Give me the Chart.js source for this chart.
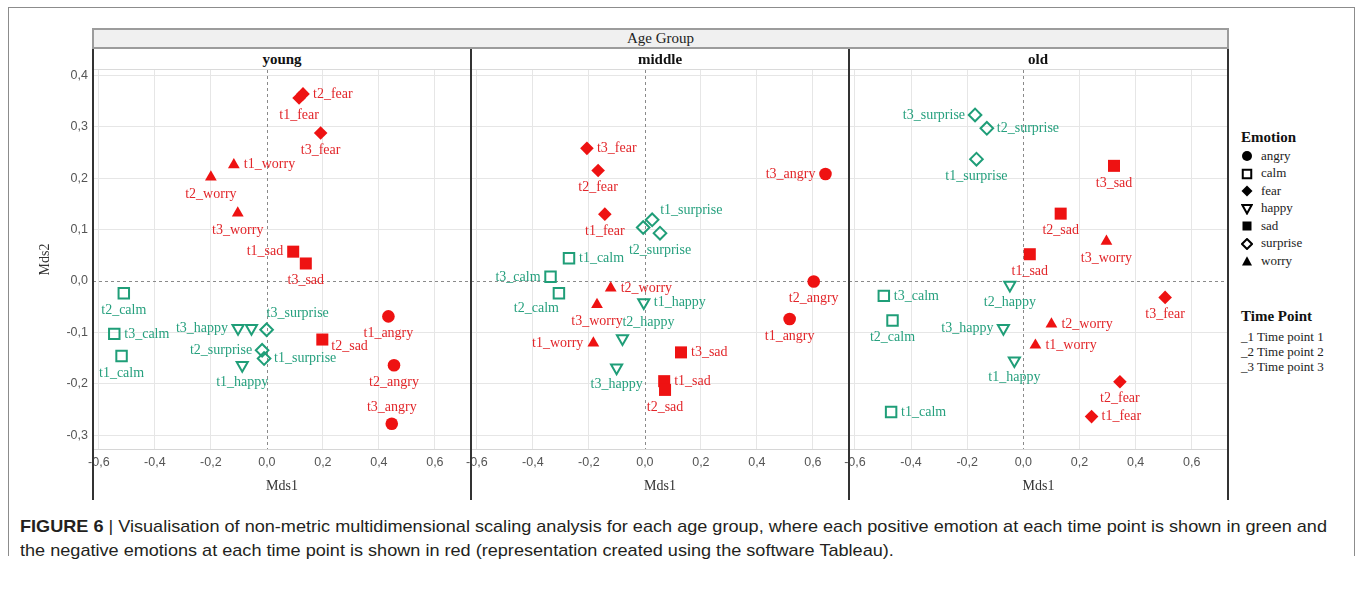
<!DOCTYPE html>
<html>
<head>
<meta charset="utf-8">
<script src="https://cdn.jsdelivr.net/npm/chart.js@4.4.1/dist/chart.umd.min.js"></script>
<style>
  html, body { margin: 0; padding: 0; background: #fff; }
  #fig { position: relative; width: 1355px; height: 594px; overflow: hidden;
         font-family: "Liberation Serif", "Times New Roman", serif; color: #222; }
  .abs { position: absolute; }
  #frame { left: 8px; top: 7px; width: 1347px; height: 549px; box-sizing: border-box;
           border: 1px solid #8c8c8c; border-bottom: none; }
  #ageBar { left: 92px; top: 28px; width: 1137px; height: 21px; box-sizing: border-box;
            border: 2px solid #9c9c9c; background: #f0f0f0; text-align: center;
            font-size: 15px; line-height: 17px; color: #222; }
  .panelHead { top: 49px; height: 21px; line-height: 21px; text-align: center;
               font-weight: bold; font-size: 15px; color: #111; border-bottom: 1px solid #dadada; box-sizing: border-box; }
  .sep { top: 49px; width: 2px; height: 451px; background: #333; z-index: 5; }
  canvas { position: absolute; }
  .lgTitle { font-weight: bold; font-size: 15px; color: #111; }
  .lgItem { font-size: 13px; color: #222; line-height: 15px; }
  .lgItem svg { position: absolute; left: 0; top: 0; }
  .cap { left: 20px; font-family: "Liberation Sans Narrow", "Liberation Sans", Arial, sans-serif;
         font-size: 17px; color: #231f20; white-space: nowrap; transform-origin: 0 0; }
  .cap b { font-weight: bold; }
</style>
</head>
<body>
<div id="fig">
  <div id="frame" class="abs"></div>
  <div id="ageBar" class="abs">Age Group</div>
  <div id="cap1" class="abs cap" style="top:517px"><b>FIGURE 6</b> | Visualisation of non-metric multidimensional scaling analysis for each age group, where each positive emotion at each time point is shown in green and</div>
  <div id="cap2" class="abs cap" style="top:541px">the negative emotions at each time point is shown in red (representation created using the software Tableau).</div>
</div>
<script>
// ---- data ----
const ageGroups = ['young', 'middle', 'old'];
const emotions = ['angry', 'calm', 'fear', 'happy', 'sad', 'surprise', 'worry'];
const positiveEmotions = ['calm', 'happy', 'surprise'];
const timePoints = ['t1', 't2', 't3'];
const timePointNames = ['Time point 1', 'Time point 2', 'Time point 3'];
const mds1Ticks = [-0.6, -0.4, -0.2, 0, 0.2, 0.4, 0.6];
const mds2Ticks = [-0.3, -0.2, -0.1, 0, 0.1, 0.2, 0.3, 0.4];

// coordinates listed emotion by emotion, t1 / t2 / t3 within each emotion
const youngMds1 = [0.434, 0.454, 0.446, -0.519, -0.511, -0.545, 0.115, 0.129, 0.192,
  -0.088, -0.055, -0.103, 0.094, 0.198, 0.139, -0.010, -0.017, -0.001, -0.118, -0.200, -0.104];
const youngMds2 = [-0.069, -0.164, -0.278, -0.146, -0.024, -0.103, 0.356, 0.364, 0.288,
  -0.164, -0.092, -0.092, 0.057, -0.114, 0.034, -0.151, -0.135, -0.095, 0.226, 0.202, 0.132];
const middleMds1 = [0.517, 0.603, 0.645, -0.271, -0.307, -0.337, -0.143, -0.167, -0.207,
  -0.004, -0.080, -0.101, 0.069, 0.072, 0.129, 0.026, 0.054, -0.006, -0.184, -0.122, -0.171];
const middleMds2 = [-0.074, -0.001, 0.208, 0.044, -0.024, 0.008, 0.130, 0.215, 0.258,
  -0.042, -0.112, -0.169, -0.195, -0.212, -0.139, 0.119, 0.093, 0.104, -0.121, -0.014, -0.046];
const oldMds1 = [null, null, null, -0.471, -0.466, -0.497, 0.243, 0.344, 0.505,
  -0.032, -0.048, -0.071, 0.023, 0.133, 0.323, -0.167, -0.130, -0.172, 0.043, 0.100, 0.296];
const oldMds2 = [null, null, null, -0.255, -0.077, -0.029, -0.264, -0.196, -0.032,
  -0.155, -0.008, -0.092, 0.052, 0.131, 0.224, 0.237, 0.297, 0.323, -0.125, -0.084, 0.077];

// side of the marker on which each point name is written ('-' = not written)
const youngLabelSide = ['b','b','t', 'b','b','r', 'b','r','b', 'b','-','l', 'l','rd','b', 'r','l','tr', 'r','b','b'];
const middleLabelSide = ['b','b','l', 'r','bl','l', 'b','b','r', 'r','tr','b', 'r','b','r', 'ru','b','-', 'l','r','b'];
const oldLabelSide = ['-','-','-', 'r','b','r', 'r','b','b', 'b','b','l', 'b','b','b', 'b','r','l', 'r','r','b'];

// ---- styling ----
const RED = '#ee1212', RED_TEXT = '#e2262a';
const GREEN = '#1f9e78', GREEN_TEXT = '#26a07e';
const GRID = '#e6e6e6';
const X_MIN = -0.621, X_MAX = 0.729, Y_MIN = -0.327, Y_MAX = 0.4105;
const markerStyle = {
  angry:    { style: 'circle',   rotation: 0,   radius: 6.3 },
  calm:     { style: 'rect',     rotation: 0,   radius: 7.4 },
  fear:     { style: 'rectRot',  rotation: 0,   radius: 6.8 },
  happy:    { style: 'triangle', rotation: 180, radius: 6.4 },
  sad:      { style: 'rect',     rotation: 0,   radius: 8.5 },
  surprise: { style: 'rectRot',  rotation: 0,   radius: 6.3 },
  worry:    { style: 'triangle', rotation: 0,   radius: 6.8 }
};
const sideOffsets = {
  r:  { dx: 10,  dy: 0,   align: 'left' },
  l:  { dx: -10, dy: 0,   align: 'right' },
  b:  { dx: 0,   dy: 17,  align: 'center' },
  t:  { dx: 0,   dy: -16, align: 'center' },
  tr: { dx: 0,   dy: -16, align: 'left' },
  ru: { dx: 8,   dy: -9,  align: 'left' },
  rd: { dx: 9,   dy: 7,   align: 'left' },
  bl: { dx: 0,   dy: 15,  align: 'right' }
};
const fmt = v => (Math.abs(v) < 1e-9 ? 0 : v).toFixed(1).replace('.', ',');

// dashed reference lines through the origin
const zeroLines = {
  id: 'zeroLines',
  beforeDatasetsDraw(chart) {
    const { ctx, chartArea: a, scales: { x, y } } = chart;
    const x0 = Math.round(x.getPixelForValue(0)) + 0.5;
    const y0 = Math.round(y.getPixelForValue(0)) + 0.5;
    ctx.save();
    ctx.strokeStyle = '#8a8a8a';
    ctx.lineWidth = 1;
    ctx.setLineDash([3, 3]);
    ctx.beginPath();
    ctx.moveTo(x0, a.top); ctx.lineTo(x0, a.bottom);
    ctx.moveTo(a.left, y0); ctx.lineTo(a.right, y0);
    ctx.stroke();
    ctx.restore();
  }
};

// point names written next to the markers
const pointNames = {
  id: 'pointNames',
  afterDatasetsDraw(chart) {
    const ctx = chart.ctx;
    ctx.save();
    ctx.font = '14px "Liberation Serif", "Times New Roman", serif';
    ctx.textBaseline = 'middle';
    chart.data.datasets.forEach((ds, di) => {
      const meta = chart.getDatasetMeta(di);
      meta.data.forEach((el, i) => {
        const side = ds.sides[i];
        if (el.skip || side === '-' || ds.data[i].x === null) return;
        const o = sideOffsets[side];
        ctx.fillStyle = ds.textColor;
        ctx.textAlign = o.align;
        ctx.fillText(ds.names[i], el.x + o.dx, el.y + o.dy);
      });
    });
    ctx.restore();
  }
};

function datasetsFor(mds1, mds2, sides) {
  return emotions.map((emo, e) => {
    const positive = positiveEmotions.includes(emo);
    const m = markerStyle[emo];
    return {
      label: emo,
      data: timePoints.map((t, i) => ({ x: mds1[e * 3 + i], y: mds2[e * 3 + i] })),
      names: timePoints.map(t => t + '_' + emo),
      sides: sides.slice(e * 3, e * 3 + 3),
      textColor: positive ? GREEN_TEXT : RED_TEXT,
      pointStyle: m.style,
      pointRotation: m.rotation,
      pointRadius: m.radius,
      pointHoverRadius: m.radius,
      pointBackgroundColor: positive ? 'rgba(0,0,0,0)' : RED,
      pointBorderColor: positive ? GREEN : RED,
      pointBorderWidth: positive ? 2 : 0,
      showLine: false
    };
  });
}

function makePanel(index, mds1, mds2, sides) {
  const fig = document.getElementById('fig');
  const first = index === 0;
  const panelLeft = 93 + index * 378;
  const axisW = first ? 93 : 20;
  const canvas = document.createElement('canvas');
  canvas.width = 378 + axisW + (index === 2 ? 1 : 0);
  canvas.height = 430;
  canvas.style.left = (panelLeft - axisW) + 'px';
  canvas.style.top = '70px';
  fig.appendChild(canvas);

  const head = document.createElement('div');
  head.className = 'abs panelHead';
  head.style.left = panelLeft + 'px';
  head.style.width = '378px';
  head.textContent = ageGroups[index];
  fig.appendChild(head);

  const gridColor = c => (c.tick && Math.abs(c.tick.value) < 1e-9) ? 'rgba(0,0,0,0)' : GRID;

  new Chart(canvas, {
    type: 'scatter',
    data: { datasets: datasetsFor(mds1, mds2, sides) },
    options: {
      responsive: false,
      devicePixelRatio: 1,
      animation: false,
      layout: { padding: 0, autoPadding: false },
      plugins: { legend: { display: false }, tooltip: { enabled: false } },
      scales: {
        x: {
          type: 'linear', min: X_MIN, max: X_MAX,
          afterBuildTicks: s => { s.ticks = mds1Ticks.map(v => ({ value: v })); },
          afterFit: s => { s.height = 51; s.paddingLeft = 0; s.paddingRight = 0; },
          grid: { color: gridColor, drawTicks: false, lineWidth: 1 },
          border: { display: true, color: '#d6d6d6' },
          ticks: { padding: 6, color: '#555', maxRotation: 0, autoSkip: false,
                   font: { family: '"Liberation Sans", Arial, sans-serif', size: 12.5 },
                   callback: v => fmt(v) },
          title: { display: true, text: 'Mds1', color: '#333',
                   font: { family: '"Liberation Serif", serif', size: 14 },
                   padding: { top: 0, bottom: 5 } }
        },
        y: {
          type: 'linear', min: Y_MIN, max: Y_MAX,
          afterBuildTicks: s => { s.ticks = mds2Ticks.map(v => ({ value: v })); },
          afterFit: s => { s.width = axisW; s.paddingTop = 0; s.paddingBottom = 0; },
          grid: { color: gridColor, drawTicks: false, lineWidth: 1 },
          border: { display: false },
          ticks: { display: first, padding: 5, color: '#555',
                   font: { family: '"Liberation Sans", Arial, sans-serif', size: 12.5 },
                   callback: v => fmt(v) },
          title: { display: first, text: 'Mds2', color: '#333',
                   font: { family: '"Liberation Serif", serif', size: 14 },
                   padding: { top: 37, bottom: 0 } }
        }
      }
    },
    plugins: [zeroLines, pointNames]
  });
}

makePanel(0, youngMds1, youngMds2, youngLabelSide);
makePanel(1, middleMds1, middleMds2, middleLabelSide);
makePanel(2, oldMds1, oldMds2, oldLabelSide);

// dark panel separators
(function () {
  const fig = document.getElementById('fig');
  [92, 470, 848, 1227].forEach(x => {
    const d = document.createElement('div');
    d.className = 'abs sep';
    d.style.left = x + 'px';
    fig.appendChild(d);
  });
})();

// legend: emotion shapes and time point codes
(function () {
  const fig = document.getElementById('fig');
  const shapes = {
    angry:    '<circle cx="6" cy="6" r="5" fill="#000"/>',
    calm:     '<rect x="1.75" y="1.75" width="8.5" height="8.5" fill="none" stroke="#000" stroke-width="2"/>',
    fear:     '<polygon points="6,0.5 11.5,6 6,11.5 0.5,6" fill="#000"/>',
    happy:    '<polygon points="1.3,2 10.7,2 6,10.5" fill="none" stroke="#000" stroke-width="2" stroke-linejoin="miter"/>',
    sad:      '<rect x="1.5" y="1.5" width="9" height="9" fill="#000"/>',
    surprise: '<polygon points="6,1 11,6 6,11 1,6" fill="none" stroke="#000" stroke-width="2"/>',
    worry:    '<polygon points="6,1.3 11,10.5 1,10.5" fill="#000"/>'
  };
  const add = (html, cls, left, top) => {
    const d = document.createElement('div');
    d.className = 'abs ' + cls;
    d.style.left = left + 'px';
    d.style.top = top + 'px';
    d.innerHTML = html;
    fig.appendChild(d);
    return d;
  };
  add('Emotion', 'lgTitle', 1241, 129);
  emotions.forEach((emo, i) => {
    const y = 156 + i * 17.5;
    add('<svg width="12" height="12" viewBox="0 0 12 12">' + shapes[emo] + '</svg>', 'lgItem', 1241, y - 6);
    add(emo, 'lgItem', 1261, y - 8.5);
  });
  add('Time Point', 'lgTitle', 1241, 308);
  timePoints.forEach((t, i) => {
    add('_' + t.slice(1) + ' ' + timePointNames[i], 'lgItem', 1241, 329 + i * 15.2);
  });
})();

// caption lines use a condensed face; fit the first line to the figure width
(function () {
  const c1 = document.getElementById('cap1');
  const c2 = document.getElementById('cap2');
  const k = 1307 / c1.getBoundingClientRect().width;
  c1.style.transform = 'scaleX(' + k + ')';
  c2.style.transform = 'scaleX(' + k + ')';
})();
</script>
</body>
</html>
